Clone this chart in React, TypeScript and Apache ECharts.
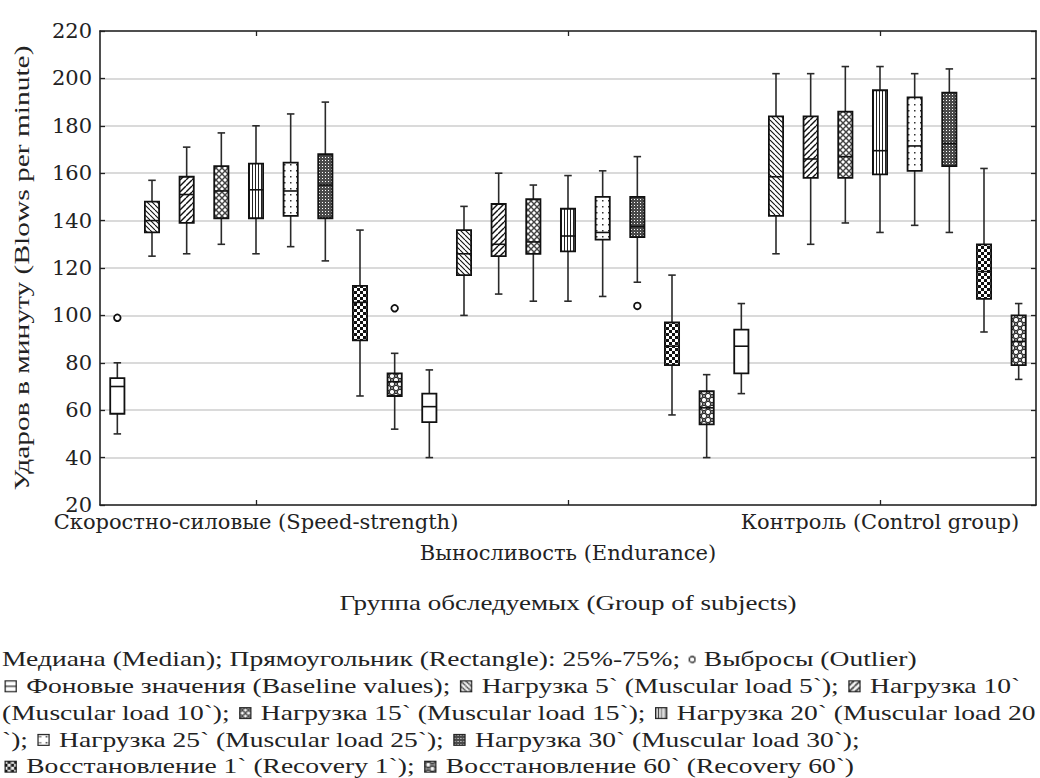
import React, { useEffect, useRef } from "react";
import * as echarts from "echarts";

// ---------- DATA ----------
const categories = [
  "Скоростно-силовые (Speed-strength)",
  "Выносливость (Endurance)",
  "Контроль (Control group)",
];

const seriesNames = [
  "Фоновые значения (Baseline values)",
  "Нагрузка 5` (Muscular load 5`)",
  "Нагрузка 10` (Muscular load 10`)",
  "Нагрузка 15` (Muscular load 15`)",
  "Нагрузка 20` (Muscular load 20`)",
  "Нагрузка 25` (Muscular load 25`)",
  "Нагрузка 30` (Muscular load 30`)",
  "Восстановление 1` (Recovery 1`)",
  "Восстановление 60` (Recovery 60`)",
];

// [min, q1, median, q3, max] per group
const baseline = [[50, 58.5, 70, 73.5, 80], [40, 55, 61.5, 67, 77], [67, 75.5, 87, 94, 105]];
const load5 = [[125, 135, 140, 148, 157], [100, 117, 126, 136, 146], [126, 142, 158.5, 184, 202]];
const load10 = [[126, 139, 151, 158.5, 171], [109, 125, 130, 147, 160], [130, 158, 166, 184, 202]];
const load15 = [[130, 141, 152.5, 163, 177], [106, 126, 131, 149, 155], [139, 158, 167, 186, 205]];
const load20 = [[126, 141, 153, 164, 180], [106, 127, 133.5, 145, 159], [135, 159.5, 169.5, 195, 205]];
const load25 = [[129, 142, 152.5, 164.5, 185], [108, 132, 135, 150, 161], [138, 161, 171.5, 192, 202]];
const load30 = [[123, 141, 155, 168, 190], [114, 133, 137.5, 150, 167], [135, 163, 172.5, 194, 204]];
const recovery1 = [[66, 89.5, 105.5, 112.5, 136], [58, 79, 87, 97, 117], [93, 107, 118.5, 130, 162]];
const recovery60 = [[52, 66, 72, 75.5, 84], [40, 54, 61, 68, 75], [73, 79, 89, 100, 105]];

const seriesValues = [baseline, load5, load10, load15, load20, load25, load30, recovery1, recovery60];

// [seriesIndex, groupIndex, value]
const outliers = [
  [0, 0, 99],
  [8, 0, 103],
  [6, 1, 104],
];

const yTicks = { min: 20, max: 220, interval: 20 };

const yTitle = "Ударов в минуту (Blows per minute)";
const xTitle = "Группа обследуемых (Group of subjects)";

const legendLines = [
  "Медиана (Median); Прямоугольник (Rectangle): 25%-75%; {o|} Выбросы (Outlier)",
  "{p0|} Фоновые значения (Baseline values); {p1|} Нагрузка 5` (Muscular load 5`); {p2|} Нагрузка 10`",
  "(Muscular load 10`); {p3|} Нагрузка 15` (Muscular load 15`); {p4|} Нагрузка 20` (Muscular load 20",
  "`); {p5|} Нагрузка 25` (Muscular load 25`); {p6|} Нагрузка 30` (Muscular load 30`);",
  "{p7|} Восстановление 1` (Recovery 1`); {p8|} Восстановление 60` (Recovery 60`)",
];

// ---------- PATTERNS ----------
type Tile = { w: number; h: number; draw: (c: CanvasRenderingContext2D) => void };

const tiles: (Tile | null)[] = [
  null,
  {
    w: 5, h: 5,
    draw: (c) => {
      c.fillStyle = "#fff"; c.fillRect(0, 0, 5, 5);
      c.strokeStyle = "#111"; c.lineWidth = 1.1;
      for (const k of [-5, 0, 5]) { c.beginPath(); c.moveTo(k, 0); c.lineTo(k + 5, 5); c.stroke(); }
    },
  },
  {
    w: 6, h: 6,
    draw: (c) => {
      c.fillStyle = "#fff"; c.fillRect(0, 0, 6, 6);
      c.strokeStyle = "#111"; c.lineWidth = 1.4;
      for (const k of [-6, 0, 6]) { c.beginPath(); c.moveTo(k, 6); c.lineTo(k + 6, 0); c.stroke(); }
    },
  },
  {
    w: 6, h: 6,
    draw: (c) => {
      c.fillStyle = "#fff"; c.fillRect(0, 0, 6, 6);
      c.strokeStyle = "#444"; c.lineWidth = 1.4;
      for (const k of [-6, 0, 6]) {
        c.beginPath(); c.moveTo(k, 6); c.lineTo(k + 6, 0); c.stroke();
        c.beginPath(); c.moveTo(k, 0); c.lineTo(k + 6, 6); c.stroke();
      }
    },
  },
  {
    w: 3, h: 2,
    draw: (c) => {
      c.fillStyle = "#fff"; c.fillRect(0, 0, 3, 2);
      c.fillStyle = "#222"; c.fillRect(0, 0, 1, 2);
    },
  },
  {
    w: 6, h: 6,
    draw: (c) => {
      c.fillStyle = "#fff"; c.fillRect(0, 0, 6, 6);
      c.fillStyle = "#333"; c.fillRect(2, 2, 1.5, 1.5);
    },
  },
  {
    w: 3, h: 3,
    draw: (c) => {
      c.fillStyle = "#4a4a4a"; c.fillRect(0, 0, 3, 3);
      c.fillStyle = "#fff"; c.fillRect(1, 1, 1, 1);
    },
  },
  {
    w: 6, h: 6,
    draw: (c) => {
      c.fillStyle = "#111"; c.fillRect(0, 0, 6, 6);
      c.fillStyle = "#fff"; c.fillRect(0, 0, 3, 3); c.fillRect(3, 3, 3, 3);
    },
  },
  {
    w: 8, h: 8,
    draw: (c) => {
      c.fillStyle = "#8a8a8a"; c.fillRect(0, 0, 8, 8);
      c.strokeStyle = "#222"; c.lineWidth = 1; c.fillStyle = "#fff";
      for (const [x, y] of [[4, 4], [0, 0], [8, 0], [0, 8], [8, 8]]) {
        c.beginPath(); c.arc(x, y, 2.6, 0, Math.PI * 2); c.fill(); c.stroke();
      }
    },
  },
];

function makeCanvas(w: number, h: number) {
  const cv = document.createElement("canvas");
  cv.width = w; cv.height = h;
  return cv;
}

function buildPatterns() {
  return tiles.map((t) => {
    if (!t) return { fill: "#fff" as any, canvas: null as HTMLCanvasElement | null };
    const cv = makeCanvas(t.w, t.h);
    t.draw(cv.getContext("2d")!);
    return {
      fill: { image: cv.toDataURL(), repeat: "repeat", imageWidth: t.w, imageHeight: t.h } as any,
      canvas: cv,
    };
  });
}

// icons are pre-squeezed horizontally, because the legend text is stretched by `sx`
function buildIcons(pats: ReturnType<typeof buildPatterns>, sx: number) {
  const S = 12;
  const cw = Math.round(S / sx);
  const icons: string[] = pats.map((p, i) => {
    const cv = makeCanvas(cw, S);
    const c = cv.getContext("2d")!;
    c.scale(cw / S, 1);
    if (p.canvas) {
      c.fillStyle = c.createPattern(p.canvas, "repeat")!;
    } else c.fillStyle = "#fff";
    c.fillRect(0, 0, S, S);
    c.strokeStyle = "#222"; c.lineWidth = 1.2;
    c.strokeRect(0.6, 0.6, S - 1.2, S - 1.2);
    if (i === 0) { c.beginPath(); c.moveTo(0, 6); c.lineTo(S, 6); c.stroke(); }
    return cv.toDataURL();
  });
  const ow = Math.round(10 / sx);
  const oc = makeCanvas(ow, 10);
  const c2 = oc.getContext("2d")!;
  c2.scale(ow / 10, 1);
  c2.strokeStyle = "#222"; c2.lineWidth = 1.3;
  c2.beginPath(); c2.arc(5, 5, 3, 0, Math.PI * 2); c2.stroke();
  return { icons, outlier: oc.toDataURL(), cw, ow };
}

const SERIF = "Liberation Serif";
const WIDE = "DejaVu Serif";

function measure(text: string, font: string) {
  const c = makeCanvas(10, 10).getContext("2d")!;
  c.font = font;
  return c.measureText(text).width;
}

export default function App() {
  const ref = useRef<HTMLDivElement>(null);
  useEffect(() => {
    if (!ref.current) return;
    const chart = echarts.init(ref.current, null, { renderer: "svg" });
    const pats = buildPatterns();
    const N = seriesNames.length;

    const boxSeries = seriesValues.map((vals, si) => ({
      type: "custom",
      name: seriesNames[si],
      xAxisIndex: 0,
      yAxisIndex: 0,
      encode: { x: 0, y: [1, 2, 3, 4, 5] },
      data: vals.map((v, gi) => [gi, ...v]),
      renderItem: (params: any, api: any) => {
        const g = api.value(0);
        const band = api.size([1, 0])[0];
        const slot = band / N;
        const cx = api.coord([g, 0])[0] + (si - (N - 1) / 2) * slot;
        const bw = slot * 0.41;
        const cap = 7.5;
        const y = [1, 2, 3, 4, 5].map((k) => api.coord([g, api.value(k)])[1]);
        const lineStyle = { stroke: "#2a2a2a", lineWidth: 1.6 };
        return {
          type: "group",
          children: [
            { type: "line", shape: { x1: cx, y1: y[3], x2: cx, y2: y[4] }, style: lineStyle },
            { type: "line", shape: { x1: cx, y1: y[1], x2: cx, y2: y[0] }, style: lineStyle },
            { type: "line", shape: { x1: cx - cap / 2, y1: y[4], x2: cx + cap / 2, y2: y[4] }, style: lineStyle },
            { type: "line", shape: { x1: cx - cap / 2, y1: y[0], x2: cx + cap / 2, y2: y[0] }, style: lineStyle },
            {
              type: "rect",
              shape: { x: cx - bw / 2, y: y[3], width: bw, height: y[1] - y[3] },
              style: { fill: pats[si].fill, stroke: "#111", lineWidth: 1.8 },
            },
            { type: "line", shape: { x1: cx - bw / 2, y1: y[2], x2: cx + bw / 2, y2: y[2] }, style: { stroke: "#111", lineWidth: 1.6 } },
          ],
        };
      },
      z: 3,
    }));

    const outlierSeries = {
      type: "custom",
      name: "outliers",
      xAxisIndex: 0,
      yAxisIndex: 0,
      encode: { x: 1, y: 2 },
      data: outliers,
      renderItem: (params: any, api: any) => {
        const si = api.value(0);
        const g = api.value(1);
        const band = api.size([1, 0])[0];
        const slot = band / N;
        const p = api.coord([g, api.value(2)]);
        return {
          type: "circle",
          shape: { cx: p[0] + (si - (N - 1) / 2) * slot, cy: p[1], r: 3.3 },
          style: { fill: "#fff", stroke: "#111", lineWidth: 1.8 },
        };
      },
      z: 4,
    };

    const axisLine = { show: true, lineStyle: { color: "#222", width: 1.6 } };
    const tick = { show: true, inside: true, length: 5, lineStyle: { color: "#222", width: 1.3 } };

    // horizontal stretch of the serif texts, as in the reference image
    const LEG_FS = 20;
    const legFont = `${LEG_FS}px '${SERIF}'`;
    const line1Plain = legendLines[0].replace("{o|}", "");
    const legScale = 905 / measure(line1Plain, legFont);
    const yTitleFont = `21px '${SERIF}'`;
    const yTitleScale = 445 / measure(yTitle, yTitleFont);
    const xTitleScale = 457 / measure(xTitle, yTitleFont);

    const { icons, outlier, cw, ow } = buildIcons(pats, legScale);
    const rich: any = {
      o: { width: ow, height: 10, backgroundColor: { image: outlier } },
      g: { width: 2.5 / legScale, height: 10 },
    };
    icons.forEach((u, i) => {
      rich["p" + i] = { width: cw, height: 12, backgroundColor: { image: u } };
    });
    const legendText = legendLines
      .map((l) => l.replace(/\{(p\d)\|\}/g, "{g|}{$1|}{g|}"))
      .join("\n");
    const LEG_LH = 26.8;

    const LABEL_FS = 21;

    chart.setOption({
      animation: false,
      backgroundColor: "#fff",
      grid: { left: 100, right: 4, top: 31, bottom: 273, containLabel: false },
      xAxis: [
        {
          type: "category",
          data: categories,
          position: "bottom",
          axisLine,
          axisTick: { ...tick, alignWithLabel: true },
          axisLabel: {
            interval: 0,
            margin: 6,
            color: "#222",
            formatter: (v: string, i: number) => (i === 1 ? `{sp|}\n{t|${v}}` : `{t|${v}}`),
            rich: {
              t: { fontFamily: WIDE, fontSize: LABEL_FS, lineHeight: 22, color: "#222" },
              sp: { height: 31, lineHeight: 31, width: 10 },
            },
          },
          splitLine: { show: false },
        },
        {
          type: "category",
          data: categories,
          position: "top",
          axisLine,
          axisTick: { ...tick, alignWithLabel: true },
          axisLabel: { show: false },
          splitLine: { show: false },
        },
      ],
      yAxis: [
        {
          type: "value",
          ...yTicks,
          position: "left",
          axisLine,
          axisTick: tick,
          axisLabel: { fontFamily: WIDE, fontSize: 21, lineHeight: 12, color: "#222", margin: 8 },
          splitLine: { show: true, lineStyle: { color: "#dadada", width: 2 } },
        },
        {
          type: "value",
          ...yTicks,
          position: "right",
          axisLine,
          axisTick: tick,
          axisLabel: { show: false },
          splitLine: { show: false },
        },
      ],
      graphic: [
        {
          type: "text",
          x: 22,
          y: 268,
          rotation: Math.PI / 2,
          scaleX: yTitleScale,
          style: {
            text: yTitle,
            font: yTitleFont,
            fill: "#222",
            align: "center",
            verticalAlign: "middle",
          },
        },
        {
          type: "text",
          x: 568,
          y: 603,
          scaleX: xTitleScale,
          style: {
            text: xTitle,
            font: yTitleFont,
            fill: "#222",
            align: "center",
            verticalAlign: "middle",
          },
        },
        {
          type: "text",
          x: 2,
          y: 659.5 - LEG_LH / 2,
          scaleX: legScale,
          style: {
            text: legendText,
            font: legFont,
            lineHeight: LEG_LH,
            fill: "#222",
            rich,
          },
        },
      ],
      series: [...boxSeries, outlierSeries],
    });
    return () => chart.dispose();
  }, []);
  return (
    <div
      ref={ref}
      style={{ position: "fixed", left: 0, top: 0, width: 1040, height: 778, background: "#fff" }}
    />
  );
}
